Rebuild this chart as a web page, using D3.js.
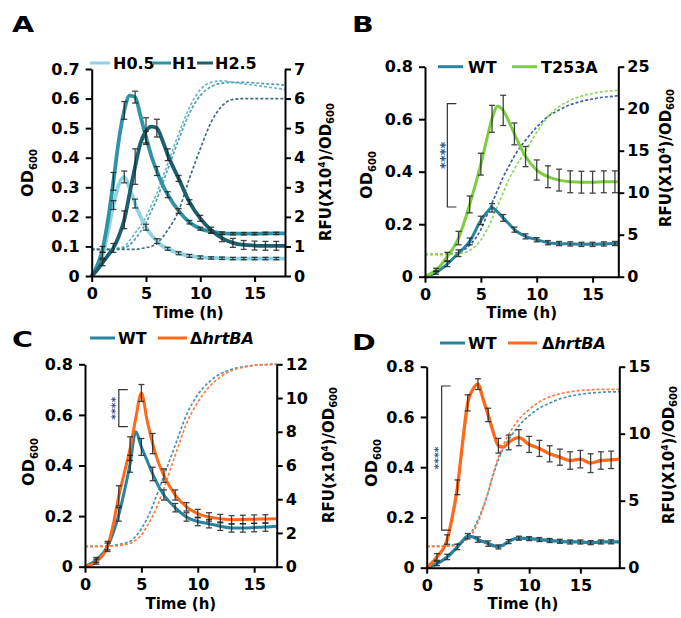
<!DOCTYPE html>
<html>
<head>
<meta charset="utf-8">
<script src="https://cdn.jsdelivr.net/npm/d3@7"></script>
<style>
body { margin: 0; background: #fff; }
text { font-family: "DejaVu Sans", sans-serif; font-weight: bold; }
</style>
</head>
<body>
<svg id="fig" width="681" height="618"></svg>
<script>
/* ---------- data ---------- */

// A : heme dose
var tA = [0,0.5,1,1.5,2,2.5,3,3.5,4,4.5,5,5.5,6,6.5,7,8,9,10,11,12,13,14,15,16,17,17.8];
var rfuH05 = [0,0.25,0.7,1.5,2.4,3.1,3.35,2.95,2.45,2.0,1.65,1.38,1.18,1.02,0.92,0.77,0.68,0.63,0.61,0.6,0.59,0.59,0.59,0.59,0.59,0.59];
var rfuH1  = [0,0.35,0.9,1.9,3.2,4.6,5.6,6.1,6.05,5.4,4.7,4.05,3.55,3.1,2.75,2.2,1.82,1.6,1.5,1.45,1.43,1.43,1.43,1.44,1.44,1.44];
var rfuH25 = [0,0.2,0.45,0.7,0.95,1.35,1.9,2.8,3.7,4.5,4.9,5.05,5.0,4.6,4.1,3.3,2.5,1.95,1.55,1.28,1.12,1.05,1.03,1.02,1.02,1.02];
var errH05 = [0,0,0.1,0,0.15,0,0.2,0,0.15,0,0.1,0,0.08,0,0.05,0.05,0.05,0.05,0.04,0.04,0.04,0.04,0.04,0.04,0.04,0];
var errH1  = [0,0,0.1,0,0.3,0,0.3,0,0.2,0,0.2,0,0.15,0,0.1,0.08,0.06,0.05,0.05,0.04,0.04,0.04,0.04,0.04,0.04,0];
var errH25 = [0,0,0.1,0,0.15,0,0.3,0,0.6,0,0.45,0,0.3,0,0.2,0.1,0.08,0.1,0.1,0.12,0.15,0.15,0.15,0.15,0.15,0];
var odH05 = [0.09,0.09,0.09,0.09,0.092,0.095,0.1,0.12,0.145,0.17,0.2,0.24,0.28,0.33,0.38,0.48,0.57,0.63,0.655,0.66,0.655,0.65,0.645,0.64,0.635,0.63];
var odH1  = [0.09,0.09,0.09,0.09,0.09,0.092,0.095,0.105,0.125,0.15,0.18,0.22,0.26,0.31,0.36,0.46,0.55,0.61,0.64,0.652,0.655,0.655,0.653,0.65,0.648,0.645];
var odH25 = [0.09,0.09,0.09,0.09,0.09,0.09,0.09,0.09,0.09,0.092,0.096,0.1,0.11,0.13,0.155,0.22,0.33,0.43,0.52,0.575,0.597,0.6,0.6,0.6,0.6,0.6];

// B : WT vs T253A
var tB = [0,1,2,3,4,5,5.5,6,6.5,7,7.5,8,9,10,11,12,13,14,15,16,17,17.3];
var rfuWTB   = [0,0.5,1.5,2.8,4.2,6.7,7.6,8.2,7.7,7.0,6.3,5.6,4.8,4.4,4.05,3.95,3.9,3.85,3.85,3.9,3.95,3.95];
var rfuT253A = [0,0.8,2.4,4.6,8.6,13.4,16.2,18.8,20.3,19.8,18.5,17.0,14.3,12.7,11.9,11.5,11.3,11.25,11.25,11.3,11.3,11.3];
var errWTB   = [0,0.2,0.3,0.4,0.4,0.5,0,0.5,0,0.4,0,0.3,0.3,0.25,0.25,0.25,0.25,0.25,0.25,0.25,0.25,0];
var errT253A = [0,0.2,0.5,0.8,1.0,1.3,0,1.6,0,1.8,0,1.3,1.2,1.2,1.3,1.3,1.3,1.3,1.3,1.3,1.3,0];
var odWTB    = [0.085,0.085,0.086,0.093,0.12,0.18,0.23,0.28,0.33,0.38,0.42,0.46,0.52,0.57,0.61,0.635,0.655,0.668,0.677,0.684,0.688,0.69];
var odT253A  = [0.085,0.085,0.085,0.088,0.1,0.14,0.175,0.22,0.27,0.32,0.37,0.41,0.48,0.55,0.61,0.648,0.672,0.688,0.698,0.705,0.709,0.71];

// C : WT vs ΔhrtBA
var tC = [0,1,2,2.5,3,3.5,4,4.5,5,5.5,6,6.5,7,8,9,10,11,12,13,14,15,16,17];
var rfuWTC = [0,0.4,1.2,2.0,3.1,4.5,6.1,8.0,7.1,6.3,5.5,4.8,4.25,3.5,2.95,2.68,2.55,2.4,2.3,2.3,2.32,2.35,2.4];
var rfuDC  = [0,0.3,1.2,2.5,4.2,5.6,7.0,8.8,10.3,8.7,7.3,6.2,5.4,4.25,3.55,3.15,2.95,2.85,2.78,2.8,2.82,2.83,2.85];
var errWTC = [0,0.15,0.2,0,0.4,0,0.5,0,0.5,0,0.4,0,0.3,0.25,0.25,0.25,0.25,0.25,0.25,0.25,0.25,0.25,0];
var errDC  = [0,0.15,0.3,0,0.6,0,0.7,0,0.5,0,0.6,0,0.4,0.3,0.25,0.25,0.25,0.25,0.25,0.25,0.25,0.25,0];
var odWTC  = [0.08,0.08,0.082,0.084,0.088,0.093,0.1,0.12,0.15,0.19,0.24,0.3,0.36,0.48,0.6,0.68,0.73,0.762,0.78,0.79,0.796,0.799,0.8];
var odDC   = [0.08,0.08,0.081,0.082,0.084,0.087,0.092,0.105,0.125,0.16,0.2,0.25,0.31,0.44,0.565,0.65,0.71,0.75,0.775,0.788,0.795,0.798,0.8];

// D : WT vs ΔhrtBA
var tD = [0,1,2,2.5,3,3.5,4,4.5,5,5.5,6,6.5,7,7.5,8,9,10,11,12,13,14,15,16,17,18,18.8];
var rfuWTD = [0,0.3,0.8,1.15,1.55,2.0,2.35,2.3,2.1,1.95,1.8,1.65,1.55,1.7,1.95,2.2,2.17,2.1,2.03,1.97,1.92,1.92,1.87,1.92,1.93,1.93];
var rfuDD  = [0,0.8,2.1,3.8,6.0,9.3,12.3,13.3,13.7,12.6,11.4,10.1,9.1,9.0,9.35,9.7,9.2,8.9,8.5,8.25,8.0,8.1,7.8,8.0,8.05,8.1];
var errWTD = [0,0.15,0.2,0,0.2,0,0.2,0,0.2,0,0.2,0,0.15,0,0.15,0.15,0.15,0.15,0.15,0.15,0.15,0.15,0.15,0.15,0.15,0];
var errDD  = [0,0.25,0.35,0,0.55,0,0.6,0,0.4,0,0.5,0,0.55,0,0.55,0.6,0.6,0.6,0.6,0.6,0.65,0.65,0.7,0.65,0.65,0];
var odWTD  = [0.085,0.085,0.087,0.09,0.095,0.108,0.125,0.15,0.19,0.24,0.3,0.37,0.43,0.475,0.51,0.565,0.605,0.635,0.655,0.672,0.683,0.69,0.695,0.698,0.7,0.7];
var odDD   = [0.085,0.085,0.086,0.087,0.09,0.1,0.115,0.14,0.18,0.235,0.3,0.375,0.44,0.49,0.53,0.59,0.63,0.66,0.68,0.692,0.7,0.705,0.708,0.71,0.71,0.71];

var xTicks = [0,5,10,15];

/* ---------- colours ---------- */
var cLight = "#8fd3e2", cMid = "#2f93a8", cDark = "#1c5f6e";
var cWT = "#2a84a0", cGreen = "#7ccd3f", cOrange = "#ff6a1a";

/* ---------- panels ---------- */
var panels = [
	{ letter: "A", lx: 12, ly: 32,
	  left: 91.7, right: 285, top: 69, bottom: 276,
	  xMax: 17.8, odMax: 0.7, odTicks: [0,0.1,0.2,0.3,0.4,0.5,0.6,0.7],
	  rfuMax: 7, rfuTicks: [0,1,2,3,4,5,6,7], time: tA, lw: 3.8,
	  od: [{v: odH05, c: "#6cb9cb"}, {v: odH1, c: "#4f9db0"}, {v: odH25, c: "#3e6e7c"}],
	  rfu: [{v: rfuH05, e: errH05, c: cLight}, {v: rfuH1, e: errH1, c: cMid}, {v: rfuH25, e: errH25, c: cDark}],
	  legendY: 63,
	  legend: [{x1: 90, x2: 110, tx: 113, c: cLight, t: "H0.5"},
	           {x1: 152, x2: 171, tx: 172, c: cMid, t: "H1"},
	           {x1: 197, x2: 213, tx: 215, c: cDark, t: "H2.5"}],
	  xLabY: 318, odX: 33, odY: 173, rfuX: 331, rfuY: 172, times: "X", sig: null },
	{ letter: "B", lx: 352, ly: 32,
	  left: 425, right: 618.3, top: 66.7, bottom: 276.7,
	  xMax: 17.3, odMax: 0.8, odTicks: [0,0.2,0.4,0.6,0.8],
	  rfuMax: 25, rfuTicks: [0,5,10,15,20,25], time: tB, lw: 3,
	  od: [{v: odWTB, c: "#3c62a3"}, {v: odT253A, c: "#8fd85a"}],
	  rfu: [{v: rfuWTB, e: errWTB, c: cWT}, {v: rfuT253A, e: errT253A, c: cGreen}],
	  legendY: 66.7,
	  legend: [{x1: 438, x2: 463, tx: 468, c: cWT, t: "WT"},
	           {x1: 512, x2: 537, tx: 541, c: cGreen, t: "T253A"}],
	  xLabY: 318, odX: 372, odY: 175, rfuX: 671, rfuY: 158, times: "X",
	  sig: {t: 2, lo: 8.3, hi: 20.6, fs: 13} },
	{ letter: "C", lx: 12, ly: 347,
	  left: 85, right: 276.7, top: 364.3, bottom: 566.7,
	  xMax: 17, odMax: 0.8, odTicks: [0,0.2,0.4,0.6,0.8],
	  rfuMax: 12, rfuTicks: [0,2,4,6,8,10,12], time: tC, lw: 3,
	  od: [{v: odWTC, c: "#4a95b0"}, {v: odDC, c: "#ff7d45"}],
	  rfu: [{v: rfuWTC, e: errWTC, c: cWT}, {v: rfuDC, e: errDC, c: cOrange}],
	  legendY: 338,
	  legend: [{x1: 90, x2: 115, tx: 118, c: cWT, t: "WT"},
	           {x1: 158, x2: 187, tx: 190, c: cOrange, t: "hrt", delta: true}],
	  xLabY: 609, odX: 34, odY: 462, rfuX: 334, rfuY: 455, times: "x",
	  sig: {t: 3, lo: 8.3, hi: 10.5, fs: 11} },
	{ letter: "D", lx: 352, ly: 350,
	  left: 426.7, right: 619.3, top: 366.7, bottom: 567.7,
	  xMax: 18.8, odMax: 0.8, odTicks: [0,0.2,0.4,0.6,0.8],
	  rfuMax: 15, rfuTicks: [0,5,10,15], time: tD, lw: 3.3,
	  od: [{v: odWTD, c: "#4a95b0"}, {v: odDD, c: "#ff7d45"}],
	  rfu: [{v: rfuWTD, e: errWTD, c: cWT}, {v: rfuDD, e: errDD, c: cOrange}],
	  legendY: 343,
	  legend: [{x1: 440, x2: 465, tx: 468, c: cWT, t: "WT"},
	           {x1: 508, x2: 537, tx: 542, c: cOrange, t: "hrt", delta: true}],
	  xLabY: 609, odX: 377, odY: 463, rfuX: 674, rfuY: 455, times: "X",
	  sig: {t: 1.46, lo: 2.8, hi: 13.56, fs: 11} }
];

var svg = d3.select("#fig");

function styleAxis(ax) {
	ax.attr("font-family", "DejaVu Sans").attr("font-size", 16).attr("font-weight", "bold");
	ax.selectAll("path, line").attr("stroke", "#000").attr("stroke-width", 2);
	ax.selectAll("text").attr("fill", "#000");
}

var fmtOD = function(d) { return d === 0 ? "0" : d3.format(".1f")(d); };

panels.forEach(function(p) {
	var g = svg.append("g");

	var x = d3.scaleLinear().domain([0, p.xMax]).range([p.left, p.right]);
	var yL = d3.scaleLinear().domain([0, p.odMax]).range([p.bottom, p.top]);
	var yR = d3.scaleLinear().domain([0, p.rfuMax]).range([p.bottom, p.top]);

	/* dashed OD600 growth curves */
	var odLine = d3.line()
		.x(function(d, i) { return x(p.time[i]); })
		.y(function(d) { return yL(d); })
		.curve(d3.curveMonotoneX);

	p.od.forEach(function(s) {
		g.append("path").datum(s.v)
			.attr("fill", "none")
			.attr("stroke", s.c)
			.attr("stroke-width", 1.7)
			.attr("stroke-dasharray", "3,2")
			.attr("d", odLine);
	});

	/* solid RFU/OD curves */
	var rfuLine = d3.line()
		.x(function(d, i) { return x(p.time[i]); })
		.y(function(d) { return yR(d); })
		.curve(d3.curveMonotoneX);

	p.rfu.forEach(function(s) {
		g.append("path").datum(s.v)
			.attr("fill", "none")
			.attr("stroke", s.c)
			.attr("stroke-width", p.lw)
			.attr("stroke-linejoin", "round")
			.attr("d", rfuLine);
	});

	/* error bars */
	p.rfu.forEach(function(s) {
		var pts = s.v.map(function(v, i) { return {t: p.time[i], v: v, e: s.e[i]}; })
			.filter(function(d) { return d.e > 0; });
		var eb = g.append("g").attr("stroke", "#222").attr("stroke-width", 1.3).attr("opacity", 0.85);
		eb.selectAll(".v").data(pts).enter().append("line")
			.attr("x1", function(d) { return x(d.t); })
			.attr("x2", function(d) { return x(d.t); })
			.attr("y1", function(d) { return yR(d.v - d.e); })
			.attr("y2", function(d) { return yR(d.v + d.e); });
		[-1, 1].forEach(function(sgn) {
			eb.selectAll(".c" + sgn).data(pts).enter().append("line")
				.attr("x1", function(d) { return x(d.t) - 3; })
				.attr("x2", function(d) { return x(d.t) + 3; })
				.attr("y1", function(d) { return yR(d.v + sgn * d.e); })
				.attr("y2", function(d) { return yR(d.v + sgn * d.e); });
		});
	});

	/* significance bracket */
	if (p.sig) {
		var bx = x(p.sig.t), b1 = yR(p.sig.hi), b2 = yR(p.sig.lo);
		g.append("path")
			.attr("d", "M" + (bx + 9) + "," + b1 + "H" + bx + "V" + b2 + "H" + (bx + 9))
			.attr("fill", "none").attr("stroke", "#333").attr("stroke-width", 1.2);
		g.append("text")
			.attr("transform", "translate(" + (bx - 6 + p.sig.fs * 0.6) + "," + ((b1 + b2) / 2) + ") rotate(-90)")
			.attr("text-anchor", "middle")
			.attr("font-size", p.sig.fs)
			.attr("font-weight", "normal")
			.attr("fill", "#35508a")
			.text("****");
	}

	/* axes */
	var axX = g.append("g")
		.attr("transform", "translate(0," + p.bottom + ")")
		.call(d3.axisBottom(x).tickValues(xTicks).tickSize(6).tickSizeOuter(0).tickPadding(6));
	styleAxis(axX);

	var axL = g.append("g")
		.attr("transform", "translate(" + p.left + ",0)")
		.call(d3.axisLeft(yL).tickValues(p.odTicks).tickFormat(fmtOD).tickSize(6).tickSizeOuter(0).tickPadding(6));
	styleAxis(axL);

	var axR = g.append("g")
		.attr("transform", "translate(" + p.right + ",0)")
		.call(d3.axisRight(yR).tickValues(p.rfuTicks).tickFormat(d3.format("d")).tickSize(6).tickSizeOuter(0).tickPadding(3));
	styleAxis(axR);

	/* axis titles */
	g.append("text")
		.attr("x", (p.left + p.right) / 2)
		.attr("y", p.xLabY)
		.attr("text-anchor", "middle")
		.attr("font-size", 15)
		.text("Time (h)");

	var od = g.append("text")
		.attr("transform", "translate(" + p.odX + "," + p.odY + ") rotate(-90)")
		.attr("text-anchor", "middle")
		.attr("font-size", 16);
	od.append("tspan").text("OD");
	od.append("tspan").attr("font-size", 10).attr("dy", 4).text("600");

	var rf = g.append("text")
		.attr("transform", "translate(" + p.rfuX + "," + p.rfuY + ") rotate(-90)")
		.attr("text-anchor", "middle")
		.attr("font-size", 15);
	rf.append("tspan").text("RFU(" + p.times + "10");
	rf.append("tspan").attr("font-size", 9).attr("dy", -6).text("4");
	rf.append("tspan").attr("dy", 6).text(")/OD");
	rf.append("tspan").attr("font-size", 10).attr("dy", 3).text("600");

	/* legend */
	p.legend.forEach(function(l) {
		g.append("line")
			.attr("x1", l.x1).attr("x2", l.x2)
			.attr("y1", p.legendY).attr("y2", p.legendY)
			.attr("stroke", l.c).attr("stroke-width", 3);
		var lt = g.append("text")
			.attr("x", l.tx).attr("y", p.legendY + 6)
			.attr("font-size", 16);
		if (l.delta) {
			lt.append("tspan").text("\u0394");
			lt.append("tspan").attr("font-style", "italic").text("hrtBA");
		} else {
			lt.text(l.t);
		}
	});

	/* panel letter */
	svg.append("text")
		.attr("transform", "translate(" + p.lx + "," + p.ly + ") scale(1.3,1)")
		.attr("font-size", 22)
		.text(p.letter);
});
</script>
</body>
</html>
